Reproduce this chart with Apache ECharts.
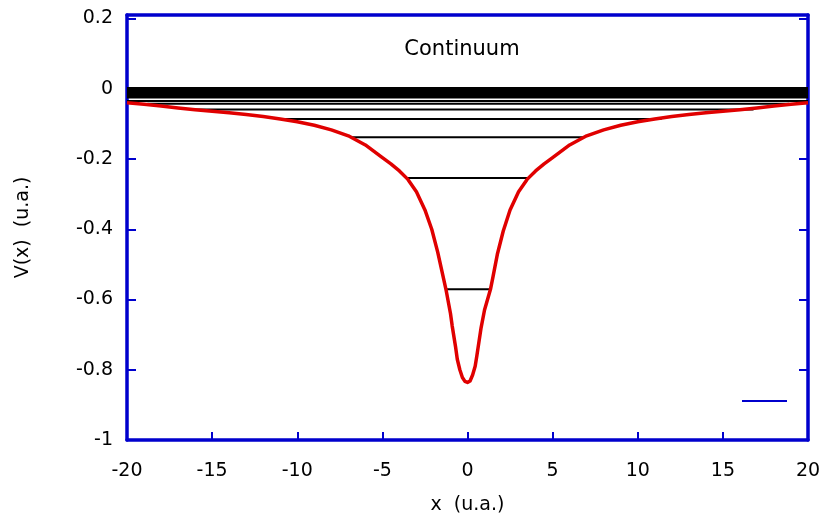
<!DOCTYPE html>
<html>
<head>
<meta charset="utf-8">
<script src="https://cdn.jsdelivr.net/npm/echarts@6/dist/echarts.min.js"></script>
<style>html,body{margin:0;padding:0;background:#fff}#c{width:825px;height:524px}</style>
</head>
<body>
<div id="c"></div>
<script>
// Potential curve V(x)
const potX = [-20,-19,-18,-17,-16,-15,-14,-13,-12,-11,-10,-9,-8,-7,-6,-5,-4.5,-4,-3.5,-3,-2.5,-2.1,-1.75,-1.5,-1.25,-1,-0.9,-0.7,-0.6,-0.45,-0.3,-0.15,0,0.15,0.3,0.45,0.55,0.8,1,1.35,1.5,1.75,2.1,2.5,3,3.5,4,4.5,5,6,7,8,9,10,11,12,13,14,15,16,17,18,19,20];
const potV = [-0.040,-0.044,-0.049,-0.055,-0.060,-0.064,-0.068,-0.073,-0.079,-0.086,-0.094,-0.104,-0.117,-0.134,-0.160,-0.196,-0.214,-0.234,-0.258,-0.293,-0.345,-0.400,-0.465,-0.520,-0.575,-0.640,-0.675,-0.735,-0.770,-0.800,-0.822,-0.833,-0.836,-0.832,-0.815,-0.790,-0.760,-0.680,-0.630,-0.571,-0.535,-0.472,-0.405,-0.345,-0.293,-0.258,-0.234,-0.214,-0.196,-0.160,-0.134,-0.117,-0.104,-0.094,-0.086,-0.079,-0.073,-0.068,-0.064,-0.060,-0.055,-0.049,-0.044,-0.040];
// Energy levels: value, left end, right end
const levelE     = [-0.571,-0.254,-0.138,-0.086,-0.059,-0.043,-0.035,-0.025,-0.022,-0.019,-0.016,-0.013,-0.010,-0.007,-0.004,-0.001,0.002];
const levelLeft  = [-1.29,-3.58,-6.8,-11.0,-16.2,-18.8,-20,-20,-20,-20,-20,-20,-20,-20,-20,-20,-20];
const levelRight = [1.35,3.58,6.8,11.4,16.8,18.9,20,20,20,20,20,20,20,20,20,20,20];
const xTicks = {min:-20, max:20, step:5};
const yTicks = {min:-1, max:0.21, step:0.2};

const BLUE = '#0000cd';
const FONT = '"DejaVu Sans", sans-serif';
const chart = echarts.init(document.getElementById('c'));

const onStep = (v, s) => Math.abs(v / s - Math.round(v / s)) < 1e-6;
const fmt = v => onStep(v, 0.2) ? String(Math.round(v * 10) / 10) : '';

const series = [];
levelE.forEach((e, i) => {
  series.push({
    type: 'line', silent: true, symbol: 'none', z: 2,
    data: [[levelLeft[i], e], [levelRight[i], e]],
    lineStyle: {color: '#000', width: 2}
  });
});
series.push({
  type: 'line', symbol: 'none', smooth: false, z: 5,
  data: potX.map((x, i) => [x, potV[i]]),
  lineStyle: {color: '#e00000', width: 3.5, join: 'round'}
});
series.push({name: 'blank', type: 'line', data: [], color: BLUE, symbol: 'none', lineStyle: {color: BLUE, width: 2}});

chart.setOption({
  animation: false,
  backgroundColor: '#fff',
  grid: {left: 127, right: 17, top: 15, bottom: 84},
  legend: {
    data: ['blank'], left: 742, top: 400, icon: 'rect', itemWidth: 45, itemHeight: 2,
    formatter: () => '', itemGap: 0, padding: 0
  },
  graphic: [{
    type: 'text', x: 462, y: 50,
    style: {text: 'Continuum', textAlign: 'center', textVerticalAlign: 'middle', font: '21px ' + FONT, fill: '#000'}
  }],
  xAxis: [{
    type: 'value', min: xTicks.min, max: xTicks.max, interval: xTicks.step,
    name: 'x  (u.a.)', nameLocation: 'middle', nameGap: 56,
    nameTextStyle: {fontSize: 19, fontFamily: FONT, color: '#000'},
    axisLine: {onZero: false, lineStyle: {color: BLUE, width: 3.5}},
    axisTick: {inside: true, length: 8, lineStyle: {color: BLUE, width: 2}},
    axisLabel: {fontSize: 19, fontFamily: FONT, color: '#000', margin: 22},
    splitLine: {show: false}
  }, {
    type: 'value', position: 'top', min: xTicks.min, max: xTicks.max, interval: xTicks.step,
    axisLine: {onZero: false, lineStyle: {color: BLUE, width: 3.5}},
    axisTick: {show: false}, axisLabel: {show: false}, splitLine: {show: false}
  }],
  yAxis: [{
    type: 'value', min: yTicks.min, max: yTicks.max, interval: yTicks.step,
    name: 'V(x)  (u.a.)', nameLocation: 'middle', nameGap: 94, nameRotate: 90,
    nameTextStyle: {fontSize: 19, fontFamily: FONT, color: '#000'},
    axisLine: {show: true, onZero: false, lineStyle: {color: BLUE, width: 3.5}},
    axisTick: {show: true, inside: true, length: 9, lineStyle: {color: BLUE, width: 2}},
    axisLabel: {fontSize: 19, fontFamily: FONT, color: '#000', margin: 14, padding: [7, 0, 0, 0], formatter: fmt},
    splitLine: {show: false}
  }, {
    type: 'value', position: 'right', min: yTicks.min, max: yTicks.max, interval: yTicks.step,
    axisLine: {show: true, onZero: false, lineStyle: {color: BLUE, width: 3.5}},
    axisTick: {show: true, inside: true, length: 9, lineStyle: {color: BLUE, width: 2}},
    axisLabel: {show: false}, splitLine: {show: false}
  }],
  series: series
});
</script>
</body>
</html>
